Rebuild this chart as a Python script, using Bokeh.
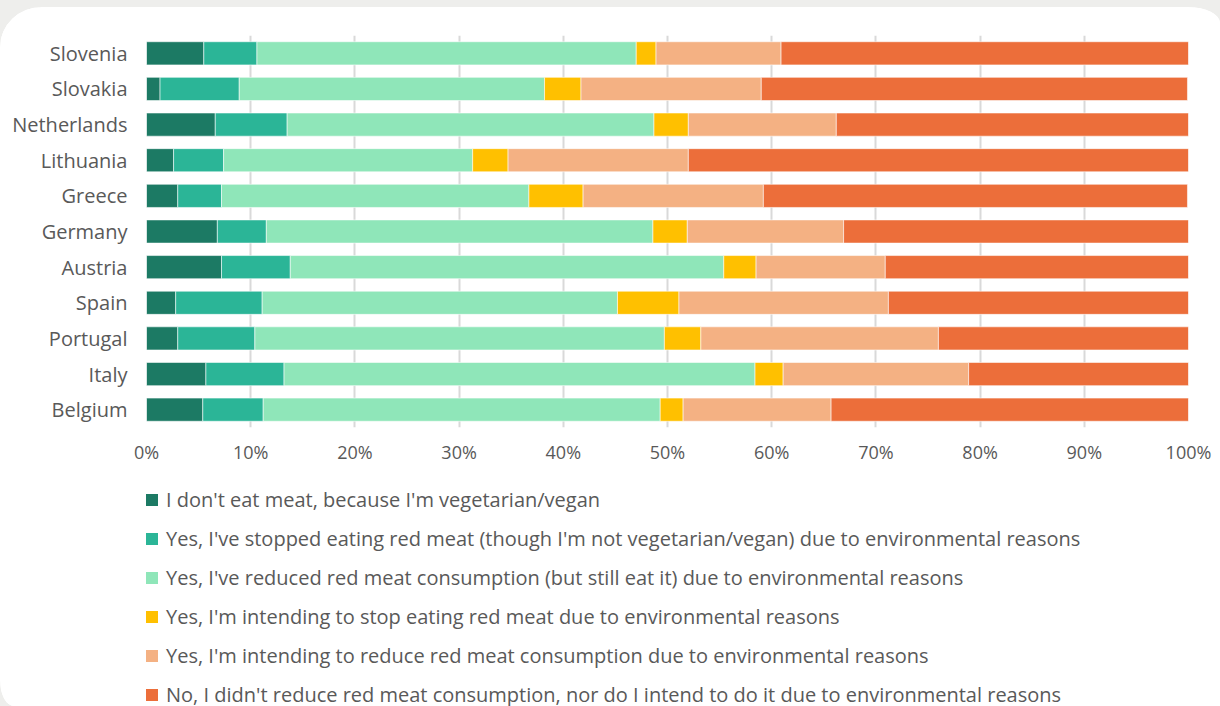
from bokeh.plotting import figure
from bokeh.layouts import column
from bokeh.models import (ColumnDataSource, Legend, LegendItem, FixedTicker,
                          PrintfTickFormatter, Range1d, GlobalInlineStyleSheet)
from bokeh.embed import file_html
from bokeh.resources import INLINE

countries = ["Slovenia", "Slovakia", "Netherlands", "Lithuania", "Greece", "Germany",
             "Austria", "Spain", "Portugal", "Italy", "Belgium"]
vegetarian = [5.5, 1.3, 6.6, 2.6, 3.0, 6.8, 7.2, 2.8, 3.0, 5.7, 5.4]
stopped = [5.1, 7.6, 6.9, 4.8, 4.2, 4.7, 6.6, 8.3, 7.4, 7.5, 5.8]
reduced = [36.4, 29.3, 35.2, 23.9, 29.5, 37.1, 41.6, 34.1, 39.3, 45.2, 38.1]
intend_stop = [1.9, 3.5, 3.3, 3.4, 5.2, 3.3, 3.1, 5.9, 3.5, 2.7, 2.2]
intend_reduce = [12.0, 17.3, 14.2, 17.3, 17.3, 15.0, 12.4, 20.1, 22.8, 17.8, 14.2]
no_reduce = [39.1, 40.9, 34.0, 48.0, 40.7, 33.1, 29.1, 28.9, 24.0, 21.1, 34.3]

series_keys = ["vegetarian", "stopped", "reduced", "intend_stop", "intend_reduce", "no_reduce"]
series_labels = [
    "I don't eat meat, because I'm vegetarian/vegan",
    "Yes, I've stopped eating red meat (though I'm not vegetarian/vegan) due to environmental reasons",
    "Yes, I've reduced red meat consumption (but still eat it) due to environmental reasons",
    "Yes, I'm intending to stop eating red meat due to environmental reasons",
    "Yes, I'm intending to reduce red meat consumption due to environmental reasons",
    "No, I didn't reduce red meat consumption, nor do I intend to do it due to environmental reasons",
]
colors = ["#1c7a64", "#2bb597", "#8fe6b9", "#ffc000", "#f4b183", "#ec6e3a"]
tick_values = [0, 10, 20, 30, 40, 50, 60, 70, 80, 90, 100]

source = ColumnDataSource(dict(country=countries, vegetarian=vegetarian, stopped=stopped,
                               reduced=reduced, intend_stop=intend_stop,
                               intend_reduce=intend_reduce, no_reduce=no_reduce))

FONT = "Open Sans"
TXT = "#595959"

# ---- bar chart ----
p = figure(width=1220, height=460, y_range=list(reversed(countries)),
           x_range=Range1d(0, 100), output_backend="svg", toolbar_location=None,
           min_border_left=146, min_border_right=32, min_border_top=28,
           min_border_bottom=40)
p.outline_line_color = None
p.background_fill_color = "white"
p.border_fill_color = "white"

renderers = p.hbar_stack(series_keys, y="country", height=0.65, color=colors,
                         line_color="white", line_width=0.8, line_alpha=0.7,
                         source=source)

p.xaxis.ticker = FixedTicker(ticks=tick_values)
p.xaxis.formatter = PrintfTickFormatter(format="%d%%")
for ax in (p.xaxis, p.yaxis):
    ax.axis_line_color = None
    ax.major_tick_line_color = None
    ax.minor_tick_line_color = None
    ax.major_tick_out = 0
    ax.major_tick_in = 0
    ax.minor_tick_out = 0
    ax.major_label_text_font = FONT
    ax.major_label_text_color = TXT
p.xaxis.major_label_text_font_size = "18px"
p.xaxis.major_label_standoff = 12
p.yaxis.major_label_text_font_size = "20px"
p.yaxis.major_label_standoff = 19

p.xgrid.grid_line_color = "#d9d9d9"
p.xgrid.grid_line_width = 2
p.ygrid.grid_line_color = None

# ---- legend panel ----
p2 = figure(width=1220, height=239, x_range=Range1d(0, 1), y_range=Range1d(0, 1),
            output_backend="svg", toolbar_location=None,
            x_axis_location=None, y_axis_location=None,
            min_border_left=146, min_border_right=32, min_border_top=0,
            min_border_bottom=0)
p2.outline_line_color = None
p2.grid.visible = False
p2.background_fill_color = "white"
p2.border_fill_color = "white"

items = []
for lab, c in zip(series_labels, colors):
    # swatch-only renderer, placed outside the visible range
    r = p2.hbar(y=[-5], left=[0], right=[1], height=0.5, color=c, line_color=None)
    items.append(LegendItem(label=lab, renderers=[r]))
legend = Legend(items=items, location=(-2, -2), orientation="vertical",
                glyph_width=15, glyph_height=15, label_standoff=7,
                spacing=11, label_height=28, padding=0, margin=0,
                border_line_color=None, background_fill_alpha=0,
                label_text_font=FONT, label_text_font_size="20px",
                label_text_color=TXT)
p2.add_layout(legend)

layout = column(p, p2, spacing=0)
layout.stylesheets = [GlobalInlineStyleSheet(css="html, body { background-color: #eeeeec; }")]
layout.styles = {
    "margin-top": "7px",
    "overflow": "hidden",
    "background-color": "white",
    "border-top-left-radius": "42px 40px",
    "border-top-right-radius": "32px 16px",
    "border-bottom-left-radius": "14px 26px",
}

open("out.html", "w").write(file_html(layout, INLINE))
